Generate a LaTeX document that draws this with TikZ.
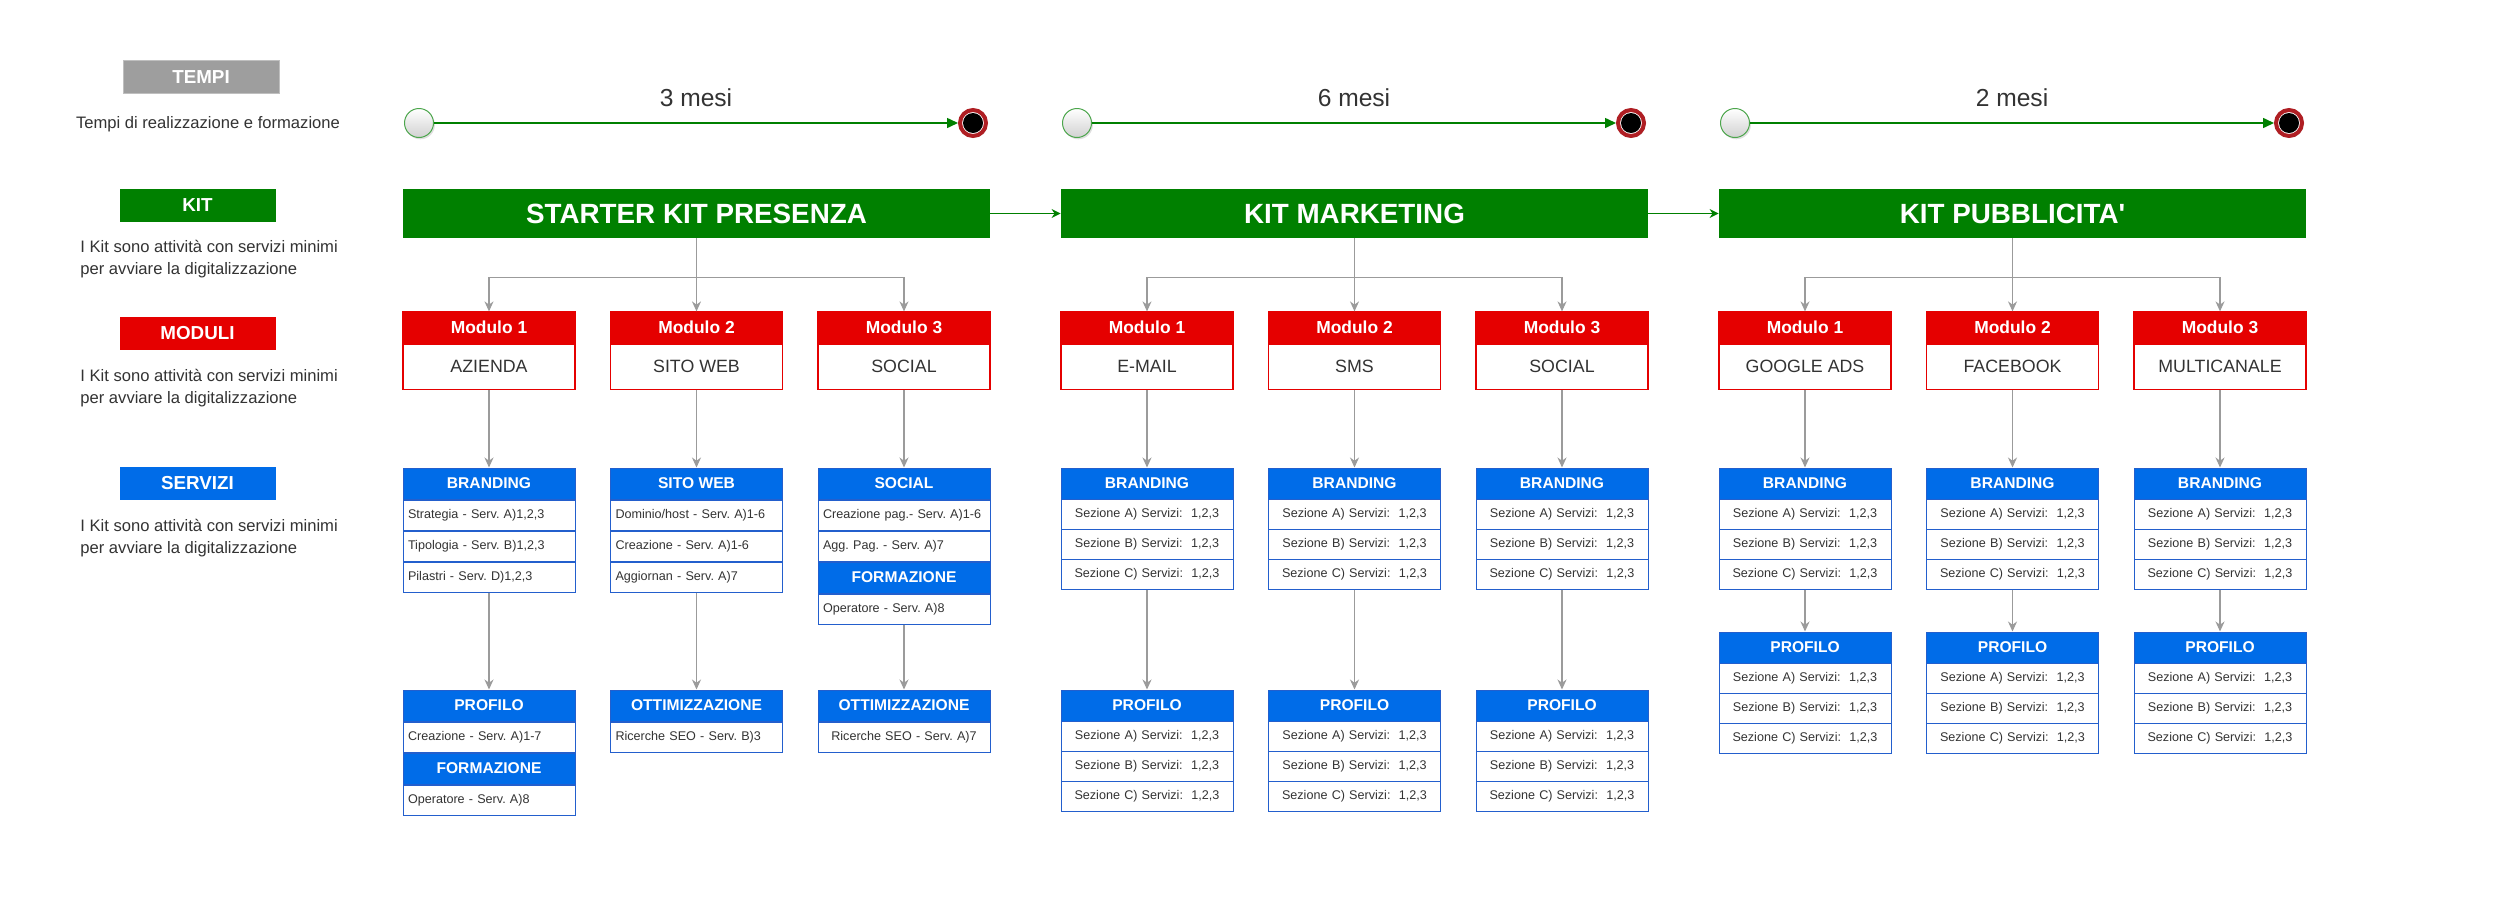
\documentclass[tikz,border=0pt]{standalone}
\usepackage{fontspec}
\setmainfont{Liberation Sans}
\usetikzlibrary{arrows.meta,positioning,shadows}
\definecolor{kitgreen}{RGB}{0,128,0}
\definecolor{modred}{RGB}{229,0,0}
\definecolor{srvblue}{RGB}{0,108,232}
\definecolor{srvline}{RGB}{35,95,205}
\definecolor{tempigray}{RGB}{158,158,158}
\definecolor{txtgray}{RGB}{51,51,51}
\definecolor{linkgray}{RGB}{155,155,155}
\definecolor{endred}{RGB}{175,30,35}
\frenchspacing

\begin{document}
\begin{tikzpicture}[x=0.5pt,y=-0.5pt,
		legbox/.style={minimum width=78pt,minimum height=16.5pt,inner sep=0pt,text=white,font=\fontsize{9.4pt}{11pt}\selectfont\bfseries},
		legtext/.style={inner sep=0pt,align=left,text=txtgray,font=\fontsize{8.3pt}{11pt}\selectfont},
		kitbox/.style={fill=kitgreen,minimum width=293.5pt,minimum height=24.5pt,inner sep=0pt,text=white,font=\fontsize{13.9pt}{16pt}\selectfont\bfseries},
		modhead/.style={fill=modred,draw=modred,line width=0.6pt,minimum width=86pt,minimum height=15.5pt,inner sep=0pt,text=white,font=\fontsize{8.7pt}{10pt}\selectfont\bfseries},
		modbody/.style={fill=white,draw=modred,line width=0.6pt,minimum width=86pt,minimum height=22.5pt,inner sep=0pt,text=txtgray,font=\fontsize{8.9pt}{10pt}\selectfont},
		srvhead/.style={fill=srvblue,draw=srvline,line width=0.5pt,minimum width=86pt,minimum height=15.5pt,inner sep=0pt,text=white,font=\fontsize{7.8pt}{9pt}\selectfont\bfseries},
		srvrow/.style={fill=white,draw=srvline,line width=0.5pt,text width=81pt,inner xsep=2.5pt,inner ysep=0pt,minimum height=15pt,align=left,text=txtgray,font=\fontsize{6.3pt}{7.5pt}\selectfont},
		srvrowc/.style={srvrow,align=center},
		link/.style={draw=linkgray,line width=0.6pt,-{Stealth[length=5pt,width=4.5pt]}},
		kitlink/.style={draw=kitgreen,line width=0.6pt,-{Stealth[length=4.5pt,width=4.5pt]}},
		timeline/.style={draw=kitgreen,line width=0.75pt,-{Triangle[length=5.5pt,width=5pt]}},
		mesi/.style={text=txtgray,font=\fontsize{12.3pt}{14pt}\selectfont},
		startpt/.style={circle,minimum size=14.5pt,inner sep=0pt,draw=kitgreen!70,line width=0.5pt,top color=white,bottom color=black!18,drop shadow={shadow xshift=0.7pt,shadow yshift=-0.9pt,opacity=0.25}},
		endpt/.style={circle,minimum size=13pt,inner sep=0pt,draw=endred,line width=2pt,fill=white,path picture={\fill[black] (path picture bounding box.center) circle (5pt);},drop shadow={shadow xshift=0.7pt,shadow yshift=-0.9pt,opacity=0.25}}]
	\fill[white] (0,0) rectangle (2497,900);
	\useasboundingbox (0,0) rectangle (2497,900);

	% legenda
	\node[legbox,fill=tempigray,draw=black!25] (tempi) at (201,77) {TEMPI};
	\node[legtext] (tempitxt) at (208,124) {Tempi di realizzazione e formazione};
	\node[legbox,fill=kitgreen] (kitleg) at (197.5,205.5) {KIT};
	\node[legtext,anchor=west] (kittxt) at (80,259) {I Kit sono attività con servizi minimi\\per avviare la digitalizzazione};
	\node[legbox,fill=modred] (modleg) at (197.5,333.5) {MODULI};
	\node[legtext,anchor=west] (modtxt) at (80,388.5) {I Kit sono attività con servizi minimi\\per avviare la digitalizzazione};
	\node[legbox,fill=srvblue] (srvleg) at (197.5,483.5) {SERVIZI};
	\node[legtext,anchor=west] (srvtxt) at (80,538) {I Kit sono attività con servizi minimi\\per avviare la digitalizzazione};

	% kit 1
	\node[kitbox] (k1kit) at (696.5,213.5) {STARTER KIT PRESENZA};
	\node[startpt] (k1t0) at (419,123) {};
	\node[endpt] (k1t1) at (973,123) {};
	\draw[timeline] (k1t0) -- node[above=4.5pt,mesi] {3 mesi} (k1t1);

	\node[modhead] (k1m1h) at (489,327.5) {Modulo 1};
	\node[modbody,below=0pt of k1m1h] (k1m1b) {AZIENDA};
	\node[modhead] (k1m2h) at (696.5,327.5) {Modulo 2};
	\node[modbody,below=0pt of k1m2h] (k1m2b) {SITO WEB};
	\node[modhead] (k1m3h) at (904,327.5) {Modulo 3};
	\node[modbody,below=0pt of k1m3h] (k1m3b) {SOCIAL};
	\draw[link] (k1kit) -- (k1m2h);
	\draw[link] (k1kit.south) -- ++(0,39) -| (k1m1h);
	\draw[link] (k1kit.south) -- ++(0,39) -| (k1m3h);

	\node[srvhead] (k1s1h) at (489,483.5) {BRANDING};
	\node[srvrow,below=0pt of k1s1h] (k1s1r1) {Strategia - Serv. A)1,2,3};
	\node[srvrow,below=0pt of k1s1r1] (k1s1r2) {Tipologia - Serv. B)1,2,3};
	\node[srvrow,below=0pt of k1s1r2] (k1s1r3) {Pilastri - Serv. D)1,2,3};
	\node[srvhead] (k1s2h) at (696.5,483.5) {SITO WEB};
	\node[srvrow,below=0pt of k1s2h] (k1s2r1) {Dominio/host - Serv. A)1-6};
	\node[srvrow,below=0pt of k1s2r1] (k1s2r2) {Creazione - Serv. A)1-6};
	\node[srvrow,below=0pt of k1s2r2] (k1s2r3) {Aggiornan - Serv. A)7};
	\node[srvhead] (k1s3h) at (904,483.5) {SOCIAL};
	\node[srvrow,below=0pt of k1s3h] (k1s3r1) {Creazione pag.- Serv. A)1-6};
	\node[srvrow,below=0pt of k1s3r1] (k1s3r2) {Agg. Pag. - Serv. A)7};
	\node[srvhead,below=0pt of k1s3r2] (k1s3f) {FORMAZIONE};
	\node[srvrow,below=0pt of k1s3f] (k1s3r3) {Operatore - Serv. A)8};
	\draw[link] (k1m1b) -- (k1s1h);
	\draw[link] (k1m2b) -- (k1s2h);
	\draw[link] (k1m3b) -- (k1s3h);

	\node[srvhead] (k1p1h) at (489,705.5) {PROFILO};
	\node[srvrow,below=0pt of k1p1h] (k1p1r1) {Creazione - Serv. A)1-7};
	\node[srvhead,below=0pt of k1p1r1] (k1p1f) {FORMAZIONE};
	\node[srvrow,below=0pt of k1p1f] (k1p1r2) {Operatore - Serv. A)8};
	\node[srvhead] (k1o2h) at (696.5,705.5) {OTTIMIZZAZIONE};
	\node[srvrow,below=0pt of k1o2h] (k1o2r1) {Ricerche SEO - Serv. B)3};
	\node[srvhead] (k1o3h) at (904,705.5) {OTTIMIZZAZIONE};
	\node[srvrowc,below=0pt of k1o3h] (k1o3r1) {Ricerche SEO - Serv. A)7};
	\draw[link] (k1s1r3) -- (k1p1h);
	\draw[link] (k1s2r3) -- (k1o2h);
	\draw[link] (k1s3r3) -- (k1o3h);

	% kit 2
	\begin{scope}[shift={(658,0)}]
		\node[kitbox] (k2kit) at (696.5,213.5) {KIT MARKETING};
		\node[startpt] (k2t0) at (419,123) {};
		\node[endpt] (k2t1) at (973,123) {};
		\draw[timeline] (k2t0) -- node[above=4.5pt,mesi] {6 mesi} (k2t1);

		\node[modhead] (k2m1h) at (489,327.5) {Modulo 1};
		\node[modbody,below=0pt of k2m1h] (k2m1b) {E-MAIL};
		\node[modhead] (k2m2h) at (696.5,327.5) {Modulo 2};
		\node[modbody,below=0pt of k2m2h] (k2m2b) {SMS};
		\node[modhead] (k2m3h) at (904,327.5) {Modulo 3};
		\node[modbody,below=0pt of k2m3h] (k2m3b) {SOCIAL};
		\draw[link] (k2kit) -- (k2m2h);
		\draw[link] (k2kit.south) -- ++(0,39) -| (k2m1h);
		\draw[link] (k2kit.south) -- ++(0,39) -| (k2m3h);

		\node[srvhead] (k2s1h) at (489,483.5) {BRANDING};
		\node[srvhead] (k2s2h) at (696.5,483.5) {BRANDING};
		\node[srvhead] (k2s3h) at (904,483.5) {BRANDING};
		\node[srvhead] (k2p1h) at (489,705.5) {PROFILO};
		\node[srvhead] (k2p2h) at (696.5,705.5) {PROFILO};
		\node[srvhead] (k2p3h) at (904,705.5) {PROFILO};
		\foreach \sez [count=\i] in {A,B,C} {
			\node[srvrowc] (k2s1r\i) at (489,484+30*\i) {Sezione \sez) Servizi:\ \ 1,2,3};
			\node[srvrowc] (k2s2r\i) at (696.5,484+30*\i) {Sezione \sez) Servizi:\ \ 1,2,3};
			\node[srvrowc] (k2s3r\i) at (904,484+30*\i) {Sezione \sez) Servizi:\ \ 1,2,3};
			\node[srvrowc] (k2p1r\i) at (489,706+30*\i) {Sezione \sez) Servizi:\ \ 1,2,3};
			\node[srvrowc] (k2p2r\i) at (696.5,706+30*\i) {Sezione \sez) Servizi:\ \ 1,2,3};
			\node[srvrowc] (k2p3r\i) at (904,706+30*\i) {Sezione \sez) Servizi:\ \ 1,2,3};
		}
		\draw[link] (k2m1b) -- (k2s1h);
		\draw[link] (k2m2b) -- (k2s2h);
		\draw[link] (k2m3b) -- (k2s3h);
		\draw[link] (k2s1r3) -- (k2p1h);
		\draw[link] (k2s2r3) -- (k2p2h);
		\draw[link] (k2s3r3) -- (k2p3h);
	\end{scope}

	% kit 3
	\begin{scope}[shift={(1316,0)}]
		\node[kitbox] (k3kit) at (696.5,213.5) {KIT PUBBLICITA\textquotesingle};
		\node[startpt] (k3t0) at (419,123) {};
		\node[endpt] (k3t1) at (973,123) {};
		\draw[timeline] (k3t0) -- node[above=4.5pt,mesi] {2 mesi} (k3t1);

		\node[modhead] (k3m1h) at (489,327.5) {Modulo 1};
		\node[modbody,below=0pt of k3m1h] (k3m1b) {GOOGLE ADS};
		\node[modhead] (k3m2h) at (696.5,327.5) {Modulo 2};
		\node[modbody,below=0pt of k3m2h] (k3m2b) {FACEBOOK};
		\node[modhead] (k3m3h) at (904,327.5) {Modulo 3};
		\node[modbody,below=0pt of k3m3h] (k3m3b) {MULTICANALE};
		\draw[link] (k3kit) -- (k3m2h);
		\draw[link] (k3kit.south) -- ++(0,39) -| (k3m1h);
		\draw[link] (k3kit.south) -- ++(0,39) -| (k3m3h);

		\node[srvhead] (k3s1h) at (489,483.5) {BRANDING};
		\node[srvhead] (k3s2h) at (696.5,483.5) {BRANDING};
		\node[srvhead] (k3s3h) at (904,483.5) {BRANDING};
		\node[srvhead] (k3p1h) at (489,647.5) {PROFILO};
		\node[srvhead] (k3p2h) at (696.5,647.5) {PROFILO};
		\node[srvhead] (k3p3h) at (904,647.5) {PROFILO};
		\foreach \sez [count=\i] in {A,B,C} {
			\node[srvrowc] (k3s1r\i) at (489,484+30*\i) {Sezione \sez) Servizi:\ \ 1,2,3};
			\node[srvrowc] (k3s2r\i) at (696.5,484+30*\i) {Sezione \sez) Servizi:\ \ 1,2,3};
			\node[srvrowc] (k3s3r\i) at (904,484+30*\i) {Sezione \sez) Servizi:\ \ 1,2,3};
			\node[srvrowc] (k3p1r\i) at (489,648+30*\i) {Sezione \sez) Servizi:\ \ 1,2,3};
			\node[srvrowc] (k3p2r\i) at (696.5,648+30*\i) {Sezione \sez) Servizi:\ \ 1,2,3};
			\node[srvrowc] (k3p3r\i) at (904,648+30*\i) {Sezione \sez) Servizi:\ \ 1,2,3};
		}
		\draw[link] (k3m1b) -- (k3s1h);
		\draw[link] (k3m2b) -- (k3s2h);
		\draw[link] (k3m3b) -- (k3s3h);
		\draw[link] (k3s1r3) -- (k3p1h);
		\draw[link] (k3s2r3) -- (k3p2h);
		\draw[link] (k3s3r3) -- (k3p3h);
	\end{scope}

	\draw[kitlink] (k1kit) -- (k2kit);
	\draw[kitlink] (k2kit) -- (k3kit);
\end{tikzpicture}
\end{document}
